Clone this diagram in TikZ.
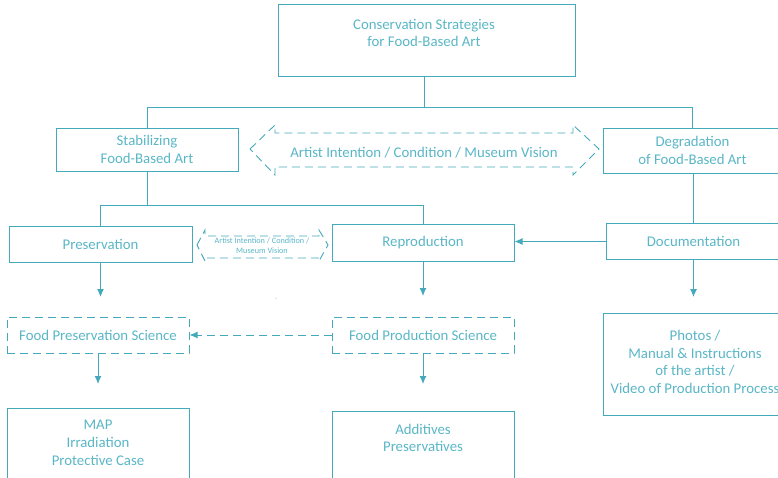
\documentclass[tikz,border=0pt]{standalone}
\usepackage{fontspec}
\setmainfont{Carlito}
\usetikzlibrary{arrows.meta}
\definecolor{linec}{HTML}{45A9BC}
\definecolor{textc}{HTML}{5AB6C6}
\begin{document}
\begin{tikzpicture}[x=1pt,y=-1pt,
  every node/.style={text=textc, font=\fontsize{14.8}{17.8}\selectfont, align=center, inner sep=0pt},
  box/.style={draw=linec, line width=1pt},
  dbox/.style={draw=linec, line width=1pt, dash pattern=on 8pt off 5pt},
  conn/.style={draw=linec, line width=1pt},
  arr/.style={conn, -{Latex[length=8pt,width=7pt]}},
  darr/.style={arr, dash pattern=on 8pt off 5pt},
  band/.style={draw=linec, line width=0.9pt, dash pattern=on 8pt off 5pt, line join=miter},
  small/.style={font=\fontsize{8.2}{10}\selectfont}]
\useasboundingbox (0,0) rectangle (778,477);
\clip (0,0) rectangle (778,477);

% top level
\node[box, minimum width=297pt, minimum height=72pt] (top) at (426.5,40) {};
\node (topT) at (424,33) {Conservation Strategies\\for Food-Based Art};

% second level
\node[box, minimum width=182pt, minimum height=43pt] (stab) at (147,149.5) {Stabilizing\\Food-Based Art};
\node[box, minimum width=179pt, minimum height=45pt] (degr) at (692.5,150.5) {Degradation\\of Food-Based Art};

% wide dashed double arrow between the two branches
\draw[band] (250,149) -- (275,125) -- (275,133) -- (573,133) -- (573,125) -- (599,149)
  -- (573,175) -- (573,167) -- (275,167) -- (275,175) -- cycle;
\node (intent) at (424,153) {Artist Intention / Condition / Museum Vision};

% third level
\node[box, minimum width=183pt, minimum height=36pt] (pres) at (100.5,244) {Preservation};
\node[box, minimum width=182pt, minimum height=37pt] (repr) at (423,242.5) {Reproduction};
\node[box, minimum width=175pt, minimum height=36pt] (docu) at (693.5,241.5) {Documentation};

% small dashed double arrow
\draw[band] (197,245) -- (205,230) -- (205,236) -- (319,236) -- (319,230) -- (328,245)
  -- (319,261) -- (319,258) -- (205,258) -- (205,261) -- cycle;
\node[small] (intentS) at (262,246) {Artist Intention / Condition /\\Museum Vision};

% fourth level
\node[dbox, minimum width=182pt, minimum height=36pt] (fps) at (98,335) {Food Preservation Science};
\node[dbox, minimum width=182pt, minimum height=36pt] (fprod) at (423,335) {Food Production Science};
\node[box, minimum width=178pt, minimum height=102pt] (photo) at (692,364) {};
\node (photoT) at (695,362)
  {Photos /\\Manual \& Instructions\\of the artist /\\Video of Production Process};

% bottom level (continues below the edge)
\node[box, minimum width=182pt, minimum height=90pt, anchor=north] (map) at (98,408) {};
\node (mapT) at (98,443) {MAP\\Irradiation\\Protective Case};
\node[box, minimum width=182pt, minimum height=90pt, anchor=north] (addi) at (423,411) {};
\node (addiT) at (423,438) {Additives\\Preservatives};

% tree connectors
\draw[conn] (top.south -| topT.south) -- ++(0,31) coordinate (j1);
\draw[conn] (stab.north) |- (j1) -| (degr.north);
\draw[conn] (stab.south) -- ++(0,34) coordinate (j2);
\draw[conn] (pres.north) |- (j2) -| (repr.north);
\draw[conn] (degr.south -| docu.north) -- (docu.north);
\draw[arr] (docu.west) -- (docu.west -| repr.east);

% downward arrows
\coordinate (p1) at (pres.south |- 0,297);
\coordinate (r1) at (repr.south |- 0,296);
\coordinate (d1) at (docu.south |- 0,297);
\draw[arr] (pres.south) -- (p1);
\draw[arr] (repr.south) -- (r1);
\draw[arr] (docu.south) -- (d1);
\draw[darr] (fprod.west) -- (fps.east);
\coordinate (f1) at (fps.south |- 0,384);
\coordinate (f2) at (fprod.south |- 0,384);
\draw[arr] (fps.south) -- (f1);
\draw[arr] (fprod.south) -- (f2);

\fill[linec] (276,298) circle (0.5pt);
\end{tikzpicture}
\end{document}
